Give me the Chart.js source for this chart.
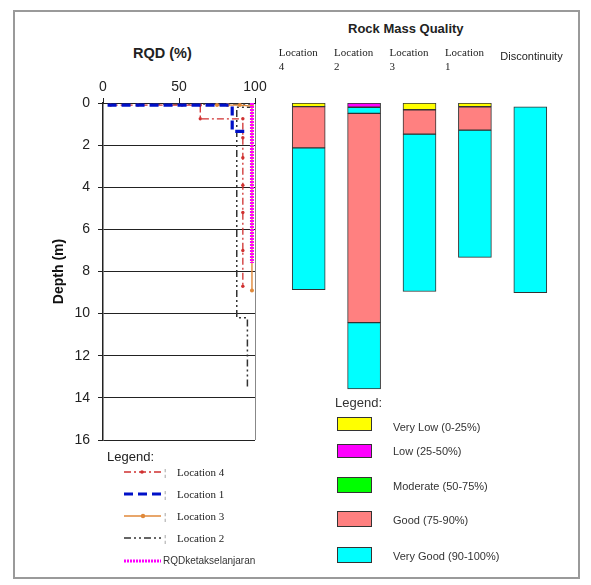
<!DOCTYPE html>
<html>
<head>
<meta charset="utf-8">
<script src="https://cdn.jsdelivr.net/npm/chart.js@4/dist/chart.umd.min.js"></script>
<style>
  body { margin: 0; background: #fff; font-family: "Liberation Sans", Arial, sans-serif; color: #222; }
  #page { position: relative; width: 591px; height: 585px; overflow: hidden; }
  #frame { position: absolute; left: 13px; top: 10px; width: 563px; height: 565px; border: 2px solid #9a9a9a; }
  canvas { position: absolute; }
  #rqd { left: 47px; top: 60px; }
  #rmq { left: 270px; top: 40px; }
  .txt { position: absolute; white-space: nowrap; }
  .ttl { font-weight: bold; }
  .serif { font-family: "Liberation Serif", "Times New Roman", serif; font-size: 11px; color: #222; }
  .sw { position: absolute; }
  .box { position: absolute; left: 337px; width: 33px; height: 12px; border: 1.5px solid #333; }
</style>
</head>
<body>
<div id="page">
  <div id="frame"></div>

  <div class="txt ttl" style="left:133px; top:44px; font-size:14.5px; line-height:18px;">RQD (%)</div>
  <div class="txt ttl" style="left:348px; top:21px; font-size:13px; line-height:16px;">Rock Mass Quality</div>

  <canvas id="rqd" width="222" height="390"></canvas>
  <canvas id="rmq" width="300" height="415"></canvas>

  <!-- legend kiri (RQD) -->
  <div class="txt" style="left:107px; top:449px; font-size:13px; line-height:16px;">Legend:</div>

  <svg class="sw" style="left:124px; top:467px" width="37" height="10">
    <line x1="0" y1="5" x2="37" y2="5" stroke="#d03030" stroke-width="1.3" stroke-dasharray="7 3 2 3"/>
    <circle cx="18" cy="5" r="1.8" fill="#d03030"/>
  </svg>
  <div class="txt serif" style="left:164px; top:465px; line-height:14px; color:#666">¦</div>
  <div class="txt serif" style="left:177px; top:465px; line-height:14px;">Location 4</div>

  <svg class="sw" style="left:124px; top:489px" width="37" height="10">
    <line x1="0" y1="5" x2="37" y2="5" stroke="#0010c8" stroke-width="3.2" stroke-dasharray="9 5"/>
  </svg>
  <div class="txt serif" style="left:164px; top:487px; line-height:14px; color:#666">¦</div>
  <div class="txt serif" style="left:177px; top:487px; line-height:14px;">Location 1</div>

  <svg class="sw" style="left:124px; top:511px" width="37" height="10">
    <line x1="0" y1="5" x2="37" y2="5" stroke="#e0893a" stroke-width="1.4"/>
    <circle cx="19" cy="5" r="2.2" fill="#e0893a"/>
  </svg>
  <div class="txt serif" style="left:164px; top:509px; line-height:14px; color:#666">¦</div>
  <div class="txt serif" style="left:177px; top:509px; line-height:14px;">Location 3</div>

  <svg class="sw" style="left:124px; top:533px" width="37" height="10">
    <line x1="0" y1="5" x2="37" y2="5" stroke="#333" stroke-width="1.5" stroke-dasharray="7 3 2 3 2 3"/>
  </svg>
  <div class="txt serif" style="left:164px; top:531px; line-height:14px; color:#666">¦</div>
  <div class="txt serif" style="left:177px; top:531px; line-height:14px;">Location 2</div>

  <svg class="sw" style="left:124px; top:556px" width="37" height="10">
    <line x1="0" y1="5" x2="37" y2="5" stroke="#ff00ff" stroke-width="3" stroke-dasharray="2 1"/>
  </svg>
  <div class="txt" style="left:163px; top:554px; font-size:10px; line-height:14px; color:#333">RQDketakselanjaran</div>

  <!-- legend kanan (rock mass quality) -->
  <div class="txt" style="left:335px; top:395px; font-size:13px; line-height:16px; color:#333">Legend:</div>
  <div class="box" style="top:417px; background:#ffff00"></div>
  <div class="txt" style="left:393px; top:420px; font-size:11px; line-height:14px; color:#333">Very Low (0-25%)</div>
  <div class="box" style="top:444px; background:#ff00ff"></div>
  <div class="txt" style="left:393px; top:444px; font-size:11px; line-height:14px; color:#333">Low (25-50%)</div>
  <div class="box" style="top:477px; height:14px; background:#00ff00"></div>
  <div class="txt" style="left:393px; top:479px; font-size:11px; line-height:14px; color:#333">Moderate (50-75%)</div>
  <div class="box" style="top:511px; height:14px; background:#ff8080"></div>
  <div class="txt" style="left:393px; top:513px; font-size:11px; line-height:14px; color:#333">Good (75-90%)</div>
  <div class="box" style="top:547px; height:14px; background:#00ffff"></div>
  <div class="txt" style="left:393px; top:549px; font-size:11px; line-height:14px; color:#333">Very Good (90-100%)</div>
</div>

<script>
// --- RQD profiles: x = RQD (%), y = depth (m) ---
const loc4Rqd = [5, 23, 52, 64, 64, 92, 92, 92, 92, 92, 92, 92];
const loc4Depth = [0.1, 0.1, 0.1, 0.1, 0.75, 0.75, 1.65, 2.6, 3.9, 5.2, 7.0, 8.7];
const loc1Rqd = [3, 85, 85, 95];
const loc1Depth = [0.1, 0.1, 1.35, 1.35];
const loc3Rqd = [75, 82, 90, 98, 98];
const loc3Depth = [0.1, 0.1, 0.1, 0.15, 8.9];
const loc2Rqd = [33, 98, 98, 88, 88, 95, 95];
const loc2Depth = [0.05, 0.05, 0.2, 0.2, 10.2, 10.2, 13.6];
const discRqd = [98, 98];
const discDepth = [0, 7.6];

const rqdTicks = [0, 50, 100];
const depthTicks = [0, 2, 4, 6, 8, 10, 12, 14, 16];

// --- Rock mass quality columns: [top depth, bottom depth] ---
const rmqCategories = [['Location', '4'], ['Location', '2'], ['Location', '3'], ['Location', '1'], ['Discontinuity', '']];
const veryLowSeg = [[0, 0.17], null, [0, 0.32], [0, 0.18], null];
const lowSeg = [null, [0, 0.2], null, null, null];
const moderateSeg = [null, null, null, null, null];
const goodSeg = [[0.17, 2.13], [0.49, 10.43], [0.32, 1.48], [0.18, 1.29], null];
const veryGoodTopSeg = [null, [0.2, 0.49], null, null, null];
const veryGoodSeg = [[2.13, 8.86], [10.43, 13.57], [1.48, 8.95], [1.29, 7.33], [0.18, 9.0]];

const toPts = (xs, ys) => xs.map((x, i) => ({ x: x, y: ys[i] }));
const sans = '"Liberation Sans", Arial, sans-serif';
const serif = '"Liberation Serif", "Times New Roman", serif';

new Chart(document.getElementById('rqd'), {
    type: 'scatter',
    data: {
        datasets: [
            { label: 'Location 1', data: toPts(loc1Rqd, loc1Depth), showLine: true, borderColor: '#0010c8', borderWidth: 3.2, borderDash: [9, 5], pointRadius: 0 },
            { label: 'Location 4', data: toPts(loc4Rqd, loc4Depth), showLine: true, borderColor: '#d03030', borderWidth: 1.3, borderDash: [7, 3, 2, 3], pointRadius: 1.7, pointBackgroundColor: '#d03030', pointBorderWidth: 0 },
            { label: 'RQDketakselanjaran', data: toPts(discRqd, discDepth), showLine: true, borderColor: '#ff00ff', borderWidth: 4, borderDash: [2, 1], pointRadius: 0 },
            { label: 'Location 3', data: toPts(loc3Rqd, loc3Depth), showLine: true, borderColor: '#e0893a', borderWidth: 1.4, pointRadius: 2, pointBackgroundColor: '#e0893a', pointBorderWidth: 0 },
            { label: 'Location 2', data: toPts(loc2Rqd, loc2Depth), showLine: true, borderColor: '#333', borderWidth: 1.5, borderDash: [7, 3, 2, 3, 2, 3], pointRadius: 0 }
        ]
    },
    options: {
        responsive: false,
        animation: false,
        layout: { padding: { left: 0, top: 0, right: 14, bottom: 10 } },
        plugins: { legend: { display: false }, tooltip: { enabled: false } },
        scales: {
            x: {
                type: 'linear', position: 'top', min: 0, max: 100,
                afterBuildTicks: s => { s.ticks = rqdTicks.map(v => ({ value: v })); },
                afterFit: s => { s.height = 43; s.paddingLeft = 0; s.paddingRight = 0; },
                ticks: { color: '#222', padding: 2, font: { family: sans, size: 14 } },
                grid: {
                    color: c => (c.tick && c.tick.value === 100) ? '#888' : 'rgba(0,0,0,0)',
                    tickColor: '#222', tickLength: 5
                },
                border: { display: true, color: '#222', width: 1 }
            },
            y: {
                type: 'linear', reverse: true, min: 0, max: 16,
                afterBuildTicks: s => { s.ticks = depthTicks.map(v => ({ value: v })); },
                afterFit: s => { s.width = 56; s.paddingTop = 0; s.paddingBottom = 0; },
                ticks: { color: '#222', padding: 8, font: { family: sans, size: 14 } },
                title: { display: true, text: 'Depth (m)', color: '#111', font: { family: sans, size: 14, weight: 'bold' } },
                grid: { color: '#222', lineWidth: 1, tickColor: '#222', tickLength: 5 },
                border: { display: true, color: '#222', width: 1.5 }
            }
        }
    }
});

const barStyle = { borderColor: '#333', borderWidth: 1, borderSkipped: false, grouped: false, barThickness: 33 };

new Chart(document.getElementById('rmq'), {
    type: 'bar',
    data: {
        labels: rmqCategories,
        datasets: [
            Object.assign({ label: 'Very Low (0-25%)', data: veryLowSeg, backgroundColor: '#ffff00' }, barStyle),
            Object.assign({ label: 'Low (25-50%)', data: lowSeg, backgroundColor: '#ff00ff' }, barStyle),
            Object.assign({ label: 'Moderate (50-75%)', data: moderateSeg, backgroundColor: '#00ff00' }, barStyle),
            Object.assign({ label: 'Good (75-90%)', data: goodSeg, backgroundColor: '#ff8080' }, barStyle),
            Object.assign({ label: 'Very Good (90-100%)', data: veryGoodTopSeg, backgroundColor: '#00ffff' }, barStyle),
            Object.assign({ label: 'Very Good (90-100%)', data: veryGoodSeg, backgroundColor: '#00ffff' }, barStyle)
        ]
    },
    options: {
        responsive: false,
        animation: false,
        layout: { padding: { left: 11, top: 0, right: 12, bottom: 15 } },
        plugins: { legend: { display: false }, tooltip: { enabled: false } },
        scales: {
            x: {
                position: 'top',
                afterFit: s => { s.height = 63; s.paddingLeft = 0; s.paddingRight = 0; },
                grid: { display: false, drawTicks: false },
                border: { display: false },
                ticks: {
                    align: 'start', labelOffset: -30, padding: 29, color: '#222',
                    maxRotation: 0, minRotation: 0, autoSkip: false,
                    font: c => c.index === 4
                        ? { family: sans, size: 11, lineHeight: 1.05 }
                        : { family: serif, size: 11, lineHeight: 1.27 }
                }
            },
            y: { display: false, min: 0, max: 16, reverse: true }
        }
    }
});
</script>
</body>
</html>
